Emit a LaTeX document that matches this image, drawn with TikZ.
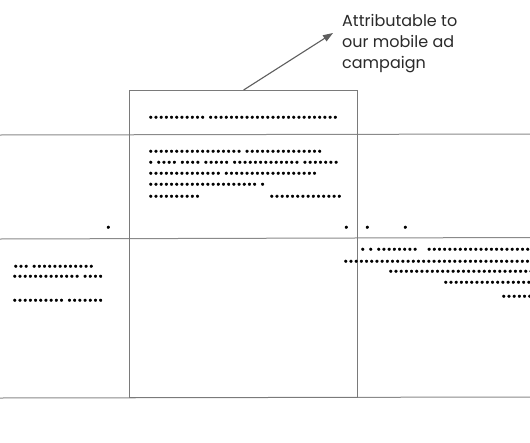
\documentclass[tikz,border=0pt]{standalone}
\usepackage{fontspec}
\setmainfont{Poppins}
\newfontfamily\dotfont[FakeBold=5]{DejaVu Sans}
\usetikzlibrary{arrows.meta}
\definecolor{rule}{HTML}{8A8A8A}
\definecolor{boxc}{HTML}{7A7A7A}
\definecolor{arrowc}{HTML}{5E5E5E}
\definecolor{labelc}{HTML}{2A2A2A}
\tikzset{
  hline/.style={draw=rule, line width=1pt},
  dotrow/.style={anchor=base west, inner sep=0pt, font=\dotfont\fontsize{8.8pt}{10pt}\selectfont, text=black},
  callout/.style={draw=arrowc, line width=1.1pt, -{Triangle[length=10pt,width=7pt]}},
  labeltext/.style={anchor=north west, inner sep=0pt, align=left, text=labelc, font=\fontsize{16pt}{21pt}\selectfont}
}
\begin{document}
\begin{tikzpicture}[x=1pt,y=-1pt]
\useasboundingbox (0,0) rectangle (530,442);
\clip (0,0) rectangle (530,442);
\fill[white] (0,0) rectangle (530,442);
% horizontal rules
\coordinate (l1a) at (0,135); \coordinate (l1b) at (530,134);
\coordinate (l2a) at (0,239); \coordinate (l2b) at (530,237.5);
\coordinate (l3a) at (0,398); \coordinate (l3b) at (530,397);
\draw[hline] (l1a) -- (l1b);
\draw[hline] (l2a) -- (l2b);
\draw[hline] (l3a) -- (l3b);
% central box
\node[draw=boxc, line width=1.2pt, minimum width=228pt, minimum height=307pt, anchor=north west, inner sep=0pt] (box) at (129,90) {};
% label and arrow
\node[labeltext] (lbl) at (342,14.5) {Attributable to\\our mobile ad\\campaign};
\coordinate (tip) at (333,33);
\draw[callout] (box.north) -- (tip);
% box rows
\node[dotrow] (ra) at (148,120.5) {••••••••••• •••••••••••••••••••••••••};
\node[dotrow] (rb) at (148,154.5) {•••••••••••••••••• •••••••••••••••};
\node[dotrow] (rc) at (148,165.5) {• •••• •••• ••••• ••••••••••••• •••••••};
\node[dotrow] (rd) at (148,176.5) {•••••••••••••• ••••••••••••••••••};
\node[dotrow] (re) at (148,187.5) {••••••••••••••••••••• •};
\node[dotrow] (rf) at (148,199.5) {••••••••••};
\node[dotrow] (rg) at (269,199.5) {••••••••••••••};
% single dots
\node[dotrow] (s1) at (105.5,230.5) {•};
\node[dotrow] (s2) at (343.5,230.5) {•};
\node[dotrow] (s3) at (364.5,230.5) {•};
\node[dotrow] (s4) at (402.5,230.5) {•};
% left rows
\node[dotrow] (la) at (13,269.5) {••• ••••••••••••};
\node[dotrow] (lb) at (12,279.5) {••••••••••••• ••••};
\node[dotrow] (lc) at (12,303.5) {•••••••••• •••••••};
% right rows
\node[dotrow] (qa) at (360,252.5) {• • ••••••••\hspace{6pt} ••••••••••••••••••••••••••};
\node[dotrow] (qb) at (343,264.5) {••••••••••••••••••••••••••••••••••••••••••};
\node[dotrow] (qc) at (388,274.5) {••••••••••••••••••••••••••••••};
\node[dotrow] (qd) at (443,285.5) {••••••••••••••••••••};
\node[dotrow] (qe) at (501,299.5) {••••••••••};
\end{tikzpicture}
\end{document}
